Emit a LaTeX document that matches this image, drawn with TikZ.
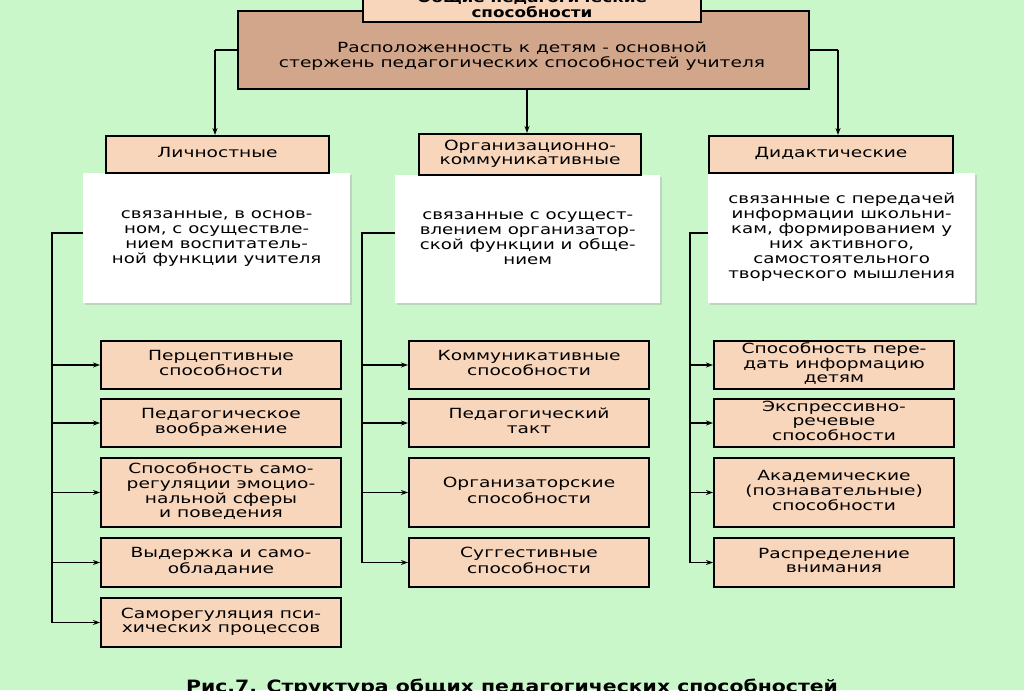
\documentclass[tikz,border=0pt]{standalone}
\usepackage{fontspec}
\setmainfont{DejaVu Sans}
\usetikzlibrary{arrows.meta,shadows}
\definecolor{bg}{HTML}{C9F7CA}
\definecolor{peach}{HTML}{F8D6BC}
\definecolor{tan}{HTML}{D2A68A}
\newcommand{\hs}[2]{\scalebox{#1}[1]{\begin{tabular}{@{}c@{}}#2\end{tabular}}}
\tikzset{
 x=1pt,y=-1pt,
 box/.style={draw=black,line width=2pt,fill=peach,align=center,font=\fontsize{14}{14.5}\selectfont,inner sep=0pt},
 desc/.style={fill=white,align=center,font=\fontsize{14}{15}\selectfont,inner sep=0pt,drop shadow={shadow xshift=2pt,shadow yshift=-2pt,fill=gray!60}},
 arr/.style={line width=1.2pt,-{Stealth[length=7pt,width=5pt]}},
 ln/.style={line width=1.2pt}
}
\newcommand{\bx}[6]{\node[box,minimum width=#3-#1,minimum height=#4-#2,anchor=north west] (#5) at (#1,#2) {\hs{1.33}{#6}};}
\begin{document}
\begin{tikzpicture}
\fill[bg] (0,0) rectangle (1024,690);
\useasboundingbox (0,0) rectangle (1024,690);
% big box
\node[draw,line width=2pt,fill=tan,minimum width=571,minimum height=78,anchor=north west,inner sep=0pt] (main) at (237,10) {};
\node[font=\fontsize{14}{15.5}\selectfont,inner sep=0pt] (maintext) at (522,57) {\hs{1.33}{Расположенность к детям - основной\\стержень педагогических способностей учителя}};
\node[box,minimum width=338,minimum height=31,anchor=north west,font=\bfseries\fontsize{14}{15}\selectfont] (title) at (362,-10) {\raisebox{-2pt}{\hs{1.2}{Общие педагогические\\способности}}};
% desc
\node[desc,minimum width=267,minimum height=130,anchor=north west] (d1) at (83,173) {\hs{1.3}{связанные, в основ-\\ном, с осуществле-\\нием воспитатель-\\ной функции учителя}};
\node[desc,minimum width=265,minimum height=128,anchor=north west] (d2) at (395,175) {\hs{1.3}{связанные с осущест-\\влением организатор-\\ской функции и обще-\\нием}};
\node[desc,minimum width=267,minimum height=130,anchor=north west] (d3) at (708,173) {\raisebox{8pt}{\hs{1.3}{связанные с передачей\\информации школьни-\\кам, формированием у\\них активного,\\самостоятельного\\творческого мышления}}};
% headers
\bx{105}{135}{328}{172}{h1}{Личностные}
\bx{418}{133}{640}{174}{h2}{Организационно-\\коммуникативные}
\bx{708}{135}{952}{172}{h3}{Дидактические}
% arrows from main
\coordinate (lt) at (215,50); \coordinate (rt) at (838,50);
\draw[ln] (main.west |- lt) -- (lt);
\draw[arr] (lt) -- (lt |- h1.north);
\draw[ln] (main.east |- rt) -- (rt);
\draw[arr] (rt) -- (rt |- h3.north);
\draw[arr] (main.south -| 527,0) -- (527,133);
% items
\bx{100}{340}{340}{388}{a1}{Перцептивные\\способности}
\bx{100}{398}{340}{446}{a2}{Педагогическое\\воображение}
\bx{100}{457}{340}{526}{a3}{Способность само-\\регуляции эмоцио-\\нальной сферы\\и поведения}
\bx{100}{537}{340}{586}{a4}{Выдержка и само-\\обладание}
\bx{100}{597}{340}{646}{a5}{Саморегуляция пси-\\хических процессов}
\bx{408}{340}{648}{388}{b1}{Коммуникативные\\способности}
\bx{408}{398}{648}{446}{b2}{Педагогический\\такт}
\bx{408}{457}{648}{526}{b3}{Организаторские\\способности}
\bx{408}{537}{648}{586}{b4}{Суггестивные\\способности}
\bx{713}{340}{953}{388}{c1}{Способность пере-\\дать информацию\\детям}
\bx{713}{398}{953}{446}{c2}{Экспрессивно-\\речевые\\способности}
\bx{713}{457}{953}{526}{c3}{Академические\\(познавательные)\\способности}
\bx{713}{537}{953}{586}{c4}{Распределение\\внимания}
% trunks
\coordinate (ta) at (52,233); \coordinate (tb) at (362,233); \coordinate (tc) at (690,233);
\draw[ln] (d1.west |- ta) -- (ta) -- (ta |- a5.west);
\draw[ln] (d2.west |- tb) -- (tb) -- (tb |- b4.west);
\draw[ln] (d3.west |- tc) -- (tc) -- (tc |- c4.west);
\foreach \i in {1,...,5} \draw[arr] (ta |- a\i.west) -- (a\i.west);
\foreach \i in {1,...,4} \draw[arr] (tb |- b\i.west) -- (b\i.west);
\foreach \i in {1,...,4} \draw[arr] (tc |- c\i.west) -- (c\i.west);
\node[font=\bfseries\fontsize{17}{18}\selectfont,anchor=north,inner sep=0pt] (cap) at (512,679) {\scalebox{1.2}[1]{Рис.7. Структура общих педагогических способностей}};
\end{tikzpicture}
\end{document}
